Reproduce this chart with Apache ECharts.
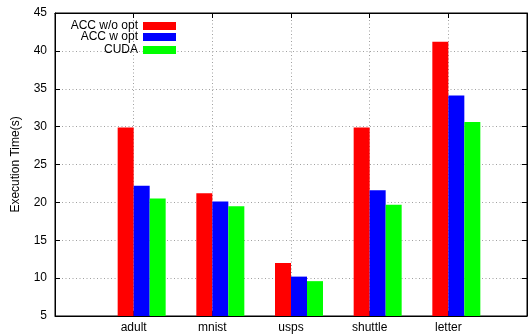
<!DOCTYPE html>
<html>
<head>
<meta charset="utf-8">
<script src="https://cdn.jsdelivr.net/npm/echarts@6/dist/echarts.min.js"></script>
<style>html,body{margin:0;padding:0;background:#fff}#c{width:530px;height:335px}</style>
</head>
<body>
<div id="c"></div>
<script>
const categories = ['adult', 'mnist', 'usps', 'shuttle', 'letter'];
const seriesNames = ['ACC w/o opt', 'ACC w opt', 'CUDA'];
const accNoOpt = [29.9, 21.2, 12.0, 29.9, 41.2];
const accOpt = [22.2, 20.1, 10.2, 21.6, 34.1];
const cuda = [20.5, 19.5, 9.6, 19.7, 30.6];
const yTicks = [5, 10, 15, 20, 25, 30, 35, 40, 45];
const colors = ['#ff0000', '#0000ff', '#00ff00'];

const FONT = '"Liberation Sans", Arial, Helvetica, sans-serif';
const chart = echarts.init(document.getElementById('c'), null, {renderer: 'canvas'});
const pairs = arr => arr.map((v, i) => [i, v]);
const gridLine = {show: true, lineStyle: {color: '#a0a0a0', width: 1, type: [1, 2.5]}};
const axLine = {show: true, onZero: false, lineStyle: {color: '#000', width: 1}};
const axTick = {show: true, inside: true, length: 5, lineStyle: {color: '#000'}};

const barBase = {type: 'bar', barWidth: 16, barGap: '0%', animation: false, xAxisIndex: 0, yAxisIndex: 0};
const series = [
  Object.assign({}, barBase, {name: 'pad', data: categories.map((c, i) => [i, null]), itemStyle: {color: 'transparent'}}),
  Object.assign({}, barBase, {name: seriesNames[0], data: pairs(accNoOpt), itemStyle: {color: colors[0]}}),
  Object.assign({}, barBase, {name: seriesNames[1], data: pairs(accOpt), itemStyle: {color: colors[1]}}),
  Object.assign({}, barBase, {name: seriesNames[2], data: pairs(cuda), itemStyle: {color: colors[2]}})
];

const legendTops = [20, 31, 44];
const legends = seriesNames.map((n, k) => ({
  data: [n], orient: 'vertical', right: 354, top: legendTops[k], padding: 0,
  align: 'right', icon: 'rect', itemWidth: 33, itemHeight: 8, selectedMode: false,
  textStyle: {fontFamily: FONT, fontSize: 12, color: '#000'}
}));

chart.setOption({
  backgroundColor: '#fff',
  animation: false,
  textStyle: {fontFamily: FONT},
  grid: {left: 55, top: 13, width: 479, height: 303, show: true, borderColor: '#000', borderWidth: 1, containLabel: false},
  legend: legends,
  xAxis: [{
    type: 'value', min: -1, max: 5, interval: 1, position: 'bottom',
    axisLine: axLine, axisTick: axTick,
    axisLabel: {margin: 6, fontFamily: FONT, fontSize: 12, color: '#000',
      formatter: v => (Number.isInteger(v) && v >= 0 && v < categories.length) ? categories[v] : ''},
    splitLine: gridLine
  }, {
    type: 'value', min: -1, max: 5, interval: 1, position: 'top',
    axisLine: axLine, axisTick: axTick,
    axisLabel: {show: false}, splitLine: {show: false}
  }],
  yAxis: [{
    type: 'value', min: yTicks[0], max: yTicks[yTicks.length - 1], interval: 5, position: 'left',
    name: 'Execution Time(s)', nameLocation: 'middle', nameGap: 33,
    nameTextStyle: {fontFamily: FONT, fontSize: 12, color: '#000'},
    axisLine: axLine, axisTick: axTick,
    axisLabel: {margin: 8, fontFamily: FONT, fontSize: 12, color: '#000'},
    splitLine: gridLine
  }, {
    type: 'value', min: yTicks[0], max: yTicks[yTicks.length - 1], interval: 5, position: 'right',
    axisLine: axLine, axisTick: axTick,
    axisLabel: {show: false}, splitLine: {show: false}
  }],
  series: series
});
</script>
</body>
</html>
